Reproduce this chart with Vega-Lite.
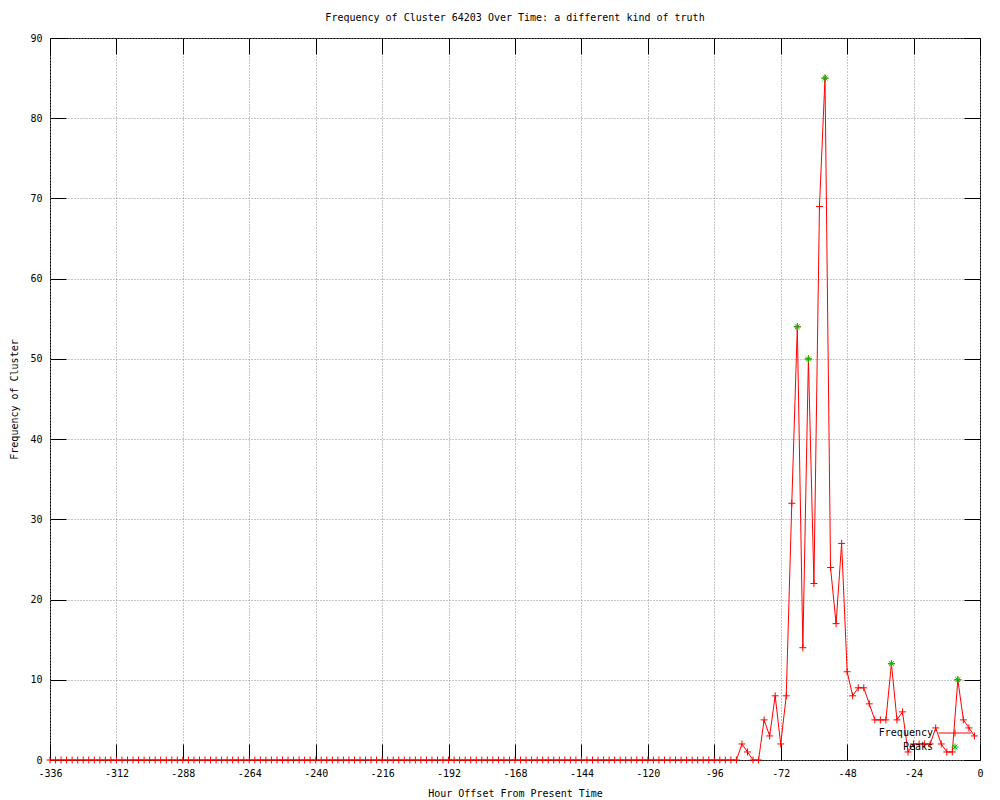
{
  "$schema": "https://vega.github.io/schema/vega-lite/v6.json",
  "width": 930,
  "height": 722,
  "autosize": {"type": "none"},
  "padding": {"left": 50, "top": 38, "right": 20, "bottom": 40},
  "background": "white",
  "title": {"text": "Frequency of Cluster 64203 Over Time: a different kind of truth", "font": "DejaVu Sans Mono", "fontSize": 10, "fontWeight": "normal", "color": "black", "anchor": "middle", "offset": 10},
  "config": {"view": {"stroke": "black", "strokeWidth": 1}},
  "data": {"values": [
    {"hour": -336, "count": 0, "series": "Frequency"},{"hour": -334, "count": 0, "series": "Frequency"},{"hour": -332, "count": 0, "series": "Frequency"},{"hour": -330, "count": 0, "series": "Frequency"},{"hour": -328, "count": 0, "series": "Frequency"},{"hour": -326, "count": 0, "series": "Frequency"},{"hour": -324, "count": 0, "series": "Frequency"},{"hour": -322, "count": 0, "series": "Frequency"},{"hour": -320, "count": 0, "series": "Frequency"},{"hour": -318, "count": 0, "series": "Frequency"},{"hour": -316, "count": 0, "series": "Frequency"},{"hour": -314, "count": 0, "series": "Frequency"},
    {"hour": -312, "count": 0, "series": "Frequency"},{"hour": -310, "count": 0, "series": "Frequency"},{"hour": -308, "count": 0, "series": "Frequency"},{"hour": -306, "count": 0, "series": "Frequency"},{"hour": -304, "count": 0, "series": "Frequency"},{"hour": -302, "count": 0, "series": "Frequency"},{"hour": -300, "count": 0, "series": "Frequency"},{"hour": -298, "count": 0, "series": "Frequency"},{"hour": -296, "count": 0, "series": "Frequency"},{"hour": -294, "count": 0, "series": "Frequency"},{"hour": -292, "count": 0, "series": "Frequency"},{"hour": -290, "count": 0, "series": "Frequency"},
    {"hour": -288, "count": 0, "series": "Frequency"},{"hour": -286, "count": 0, "series": "Frequency"},{"hour": -284, "count": 0, "series": "Frequency"},{"hour": -282, "count": 0, "series": "Frequency"},{"hour": -280, "count": 0, "series": "Frequency"},{"hour": -278, "count": 0, "series": "Frequency"},{"hour": -276, "count": 0, "series": "Frequency"},{"hour": -274, "count": 0, "series": "Frequency"},{"hour": -272, "count": 0, "series": "Frequency"},{"hour": -270, "count": 0, "series": "Frequency"},{"hour": -268, "count": 0, "series": "Frequency"},{"hour": -266, "count": 0, "series": "Frequency"},
    {"hour": -264, "count": 0, "series": "Frequency"},{"hour": -262, "count": 0, "series": "Frequency"},{"hour": -260, "count": 0, "series": "Frequency"},{"hour": -258, "count": 0, "series": "Frequency"},{"hour": -256, "count": 0, "series": "Frequency"},{"hour": -254, "count": 0, "series": "Frequency"},{"hour": -252, "count": 0, "series": "Frequency"},{"hour": -250, "count": 0, "series": "Frequency"},{"hour": -248, "count": 0, "series": "Frequency"},{"hour": -246, "count": 0, "series": "Frequency"},{"hour": -244, "count": 0, "series": "Frequency"},{"hour": -242, "count": 0, "series": "Frequency"},
    {"hour": -240, "count": 0, "series": "Frequency"},{"hour": -238, "count": 0, "series": "Frequency"},{"hour": -236, "count": 0, "series": "Frequency"},{"hour": -234, "count": 0, "series": "Frequency"},{"hour": -232, "count": 0, "series": "Frequency"},{"hour": -230, "count": 0, "series": "Frequency"},{"hour": -228, "count": 0, "series": "Frequency"},{"hour": -226, "count": 0, "series": "Frequency"},{"hour": -224, "count": 0, "series": "Frequency"},{"hour": -222, "count": 0, "series": "Frequency"},{"hour": -220, "count": 0, "series": "Frequency"},{"hour": -218, "count": 0, "series": "Frequency"},
    {"hour": -216, "count": 0, "series": "Frequency"},{"hour": -214, "count": 0, "series": "Frequency"},{"hour": -212, "count": 0, "series": "Frequency"},{"hour": -210, "count": 0, "series": "Frequency"},{"hour": -208, "count": 0, "series": "Frequency"},{"hour": -206, "count": 0, "series": "Frequency"},{"hour": -204, "count": 0, "series": "Frequency"},{"hour": -202, "count": 0, "series": "Frequency"},{"hour": -200, "count": 0, "series": "Frequency"},{"hour": -198, "count": 0, "series": "Frequency"},{"hour": -196, "count": 0, "series": "Frequency"},{"hour": -194, "count": 0, "series": "Frequency"},
    {"hour": -192, "count": 0, "series": "Frequency"},{"hour": -190, "count": 0, "series": "Frequency"},{"hour": -188, "count": 0, "series": "Frequency"},{"hour": -186, "count": 0, "series": "Frequency"},{"hour": -184, "count": 0, "series": "Frequency"},{"hour": -182, "count": 0, "series": "Frequency"},{"hour": -180, "count": 0, "series": "Frequency"},{"hour": -178, "count": 0, "series": "Frequency"},{"hour": -176, "count": 0, "series": "Frequency"},{"hour": -174, "count": 0, "series": "Frequency"},{"hour": -172, "count": 0, "series": "Frequency"},{"hour": -170, "count": 0, "series": "Frequency"},
    {"hour": -168, "count": 0, "series": "Frequency"},{"hour": -166, "count": 0, "series": "Frequency"},{"hour": -164, "count": 0, "series": "Frequency"},{"hour": -162, "count": 0, "series": "Frequency"},{"hour": -160, "count": 0, "series": "Frequency"},{"hour": -158, "count": 0, "series": "Frequency"},{"hour": -156, "count": 0, "series": "Frequency"},{"hour": -154, "count": 0, "series": "Frequency"},{"hour": -152, "count": 0, "series": "Frequency"},{"hour": -150, "count": 0, "series": "Frequency"},{"hour": -148, "count": 0, "series": "Frequency"},{"hour": -146, "count": 0, "series": "Frequency"},
    {"hour": -144, "count": 0, "series": "Frequency"},{"hour": -142, "count": 0, "series": "Frequency"},{"hour": -140, "count": 0, "series": "Frequency"},{"hour": -138, "count": 0, "series": "Frequency"},{"hour": -136, "count": 0, "series": "Frequency"},{"hour": -134, "count": 0, "series": "Frequency"},{"hour": -132, "count": 0, "series": "Frequency"},{"hour": -130, "count": 0, "series": "Frequency"},{"hour": -128, "count": 0, "series": "Frequency"},{"hour": -126, "count": 0, "series": "Frequency"},{"hour": -124, "count": 0, "series": "Frequency"},{"hour": -122, "count": 0, "series": "Frequency"},
    {"hour": -120, "count": 0, "series": "Frequency"},{"hour": -118, "count": 0, "series": "Frequency"},{"hour": -116, "count": 0, "series": "Frequency"},{"hour": -114, "count": 0, "series": "Frequency"},{"hour": -112, "count": 0, "series": "Frequency"},{"hour": -110, "count": 0, "series": "Frequency"},{"hour": -108, "count": 0, "series": "Frequency"},{"hour": -106, "count": 0, "series": "Frequency"},{"hour": -104, "count": 0, "series": "Frequency"},{"hour": -102, "count": 0, "series": "Frequency"},{"hour": -100, "count": 0, "series": "Frequency"},{"hour": -98, "count": 0, "series": "Frequency"},
    {"hour": -96, "count": 0, "series": "Frequency"},{"hour": -94, "count": 0, "series": "Frequency"},{"hour": -92, "count": 0, "series": "Frequency"},{"hour": -90, "count": 0, "series": "Frequency"},{"hour": -88, "count": 0, "series": "Frequency"},{"hour": -86, "count": 2, "series": "Frequency"},{"hour": -84, "count": 1, "series": "Frequency"},{"hour": -82, "count": 0, "series": "Frequency"},{"hour": -80, "count": 0, "series": "Frequency"},{"hour": -78, "count": 5, "series": "Frequency"},{"hour": -76, "count": 3, "series": "Frequency"},{"hour": -74, "count": 8, "series": "Frequency"},
    {"hour": -72, "count": 2, "series": "Frequency"},{"hour": -70, "count": 8, "series": "Frequency"},{"hour": -68, "count": 32, "series": "Frequency"},{"hour": -66, "count": 54, "series": "Frequency"},{"hour": -64, "count": 14, "series": "Frequency"},{"hour": -62, "count": 50, "series": "Frequency"},{"hour": -60, "count": 22, "series": "Frequency"},{"hour": -58, "count": 69, "series": "Frequency"},{"hour": -56, "count": 85, "series": "Frequency"},{"hour": -54, "count": 24, "series": "Frequency"},{"hour": -52, "count": 17, "series": "Frequency"},{"hour": -50, "count": 27, "series": "Frequency"},
    {"hour": -48, "count": 11, "series": "Frequency"},{"hour": -46, "count": 8, "series": "Frequency"},{"hour": -44, "count": 9, "series": "Frequency"},{"hour": -42, "count": 9, "series": "Frequency"},{"hour": -40, "count": 7, "series": "Frequency"},{"hour": -38, "count": 5, "series": "Frequency"},{"hour": -36, "count": 5, "series": "Frequency"},{"hour": -34, "count": 5, "series": "Frequency"},{"hour": -32, "count": 12, "series": "Frequency"},{"hour": -30, "count": 5, "series": "Frequency"},{"hour": -28, "count": 6, "series": "Frequency"},{"hour": -26, "count": 1, "series": "Frequency"},
    {"hour": -24, "count": 2, "series": "Frequency"},{"hour": -22, "count": 2, "series": "Frequency"},{"hour": -20, "count": 2, "series": "Frequency"},{"hour": -18, "count": 2, "series": "Frequency"},{"hour": -16, "count": 4, "series": "Frequency"},{"hour": -14, "count": 2, "series": "Frequency"},{"hour": -12, "count": 1, "series": "Frequency"},{"hour": -10, "count": 1, "series": "Frequency"},{"hour": -8, "count": 10, "series": "Frequency"},{"hour": -6, "count": 5, "series": "Frequency"},{"hour": -4, "count": 4, "series": "Frequency"},{"hour": -2, "count": 3, "series": "Frequency"},
    {"hour": -66, "count": 54, "series": "Peaks"},{"hour": -62, "count": 50, "series": "Peaks"},{"hour": -56, "count": 85, "series": "Peaks"},{"hour": -32, "count": 12, "series": "Peaks"},{"hour": -8, "count": 10, "series": "Peaks"}
  ]},
  "layer": [
    {
      "transform": [{"filter": "datum.series === 'Frequency'"}],
      "mark": {"type": "line", "color": "#ff0000", "strokeWidth": 1},
      "encoding": {
        "x": {"field": "hour", "type": "quantitative", "scale": {"domain": [-336, 0], "nice": false, "zero": false},
          "axis": {"orient": "bottom", "values": [-336,-312,-288,-264,-240,-216,-192,-168,-144,-120,-96,-72,-48,-24,0], "tickSize": -16, "tickColor": "black", "tickWidth": 1, "labelPadding": 24, "domain": false, "grid": true, "gridColor": "#8c8c8c", "gridDash": [1, 2], "gridWidth": 1, "labelFont": "DejaVu Sans Mono", "labelFontSize": 10, "labelColor": "black", "labelExpr": "'' + datum.value", "labelFlush": false, "labelOverlap": false, "title": "Hour Offset From Present Time", "titleFont": "DejaVu Sans Mono", "titleFontSize": 10, "titleFontWeight": "normal", "titleColor": "black", "titlePadding": 10}},
        "y": {"field": "count", "type": "quantitative", "scale": {"domain": [0, 90], "nice": false},
          "axis": {"orient": "left", "values": [0,10,20,30,40,50,60,70,80,90], "tickSize": -16, "tickColor": "black", "tickWidth": 1, "labelPadding": 24, "domain": false, "grid": true, "gridColor": "#8c8c8c", "gridDash": [1, 2], "gridWidth": 1, "labelFont": "DejaVu Sans Mono", "labelFontSize": 10, "labelColor": "black", "labelFlush": false, "labelOverlap": false, "title": "Frequency of Cluster", "titleFont": "DejaVu Sans Mono", "titleFontSize": 10, "titleFontWeight": "normal", "titleColor": "black", "titlePadding": 10}}
      }
    },
    {
      "transform": [{"filter": "datum.series === 'Frequency'"}],
      "mark": {"type": "point", "filled": false, "size": 49, "strokeWidth": 1, "opacity": 1, "stroke": "#ff0000", "shape": "M-1,0H1M0,-1V1"},
      "encoding": {
        "x": {"field": "hour", "type": "quantitative", "scale": {"domain": [-336, 0], "nice": false, "zero": false},
          "axis": {"orient": "top", "values": [-336,-312,-288,-264,-240,-216,-192,-168,-144,-120,-96,-72,-48,-24,0], "tickSize": -16, "tickColor": "black", "labels": false, "domain": false, "grid": false, "title": null}},
        "y": {"field": "count", "type": "quantitative", "scale": {"domain": [0, 90], "nice": false},
          "axis": {"orient": "right", "values": [0,10,20,30,40,50,60,70,80,90], "tickSize": -16, "tickColor": "black", "labels": false, "domain": false, "grid": false, "title": null}}
      }
    },
    {
      "transform": [{"filter": "datum.series === 'Peaks'"}],
      "mark": {"type": "point", "filled": false, "size": 49, "strokeWidth": 1, "opacity": 1, "stroke": "#00c000", "shape": "M-1,0H1M0,-1V1M-0.7,-0.7L0.7,0.7M-0.7,0.7L0.7,-0.7"},
      "encoding": {
        "x": {"field": "hour", "type": "quantitative", "axis": null},
        "y": {"field": "count", "type": "quantitative", "axis": null}
      }
    },
    {
      "transform": [{"filter": "false"}],
      "mark": {"type": "point", "filled": false, "size": 49, "strokeWidth": 1, "opacity": 1},
      "encoding": {
        "x": {"field": "hour", "type": "quantitative", "axis": null},
        "y": {"field": "count", "type": "quantitative", "axis": null},
        "color": {"field": "series", "type": "nominal", "scale": {"domain": ["Frequency", "Peaks"], "range": ["#ff0000", "#00c000"]},
          "legend": {"title": null, "orient": "none", "legendX": 900, "legendY": 690, "labelAlign": "right", "labelOffset": -27, "labelFont": "DejaVu Sans Mono", "labelFontSize": 10, "labelColor": "black", "symbolSize": 49, "symbolStrokeWidth": 1, "rowPadding": 2, "padding": 0}},
        "shape": {"field": "series", "type": "nominal", "scale": {"domain": ["Frequency", "Peaks"], "range": ["M-4.7,0H4.7M0,-1V1", "M-1,0H1M0,-1V1M-0.7,-0.7L0.7,0.7M-0.7,0.7L0.7,-0.7"]},
          "legend": {"title": null, "orient": "none", "legendX": 900, "legendY": 690, "labelAlign": "right", "labelOffset": -27, "labelFont": "DejaVu Sans Mono", "labelFontSize": 10, "labelColor": "black", "symbolSize": 49, "symbolStrokeWidth": 1, "rowPadding": 2, "padding": 0}}
      }
    }
  ],
  "resolve": {"axis": {"x": "independent", "y": "independent"}}
}
